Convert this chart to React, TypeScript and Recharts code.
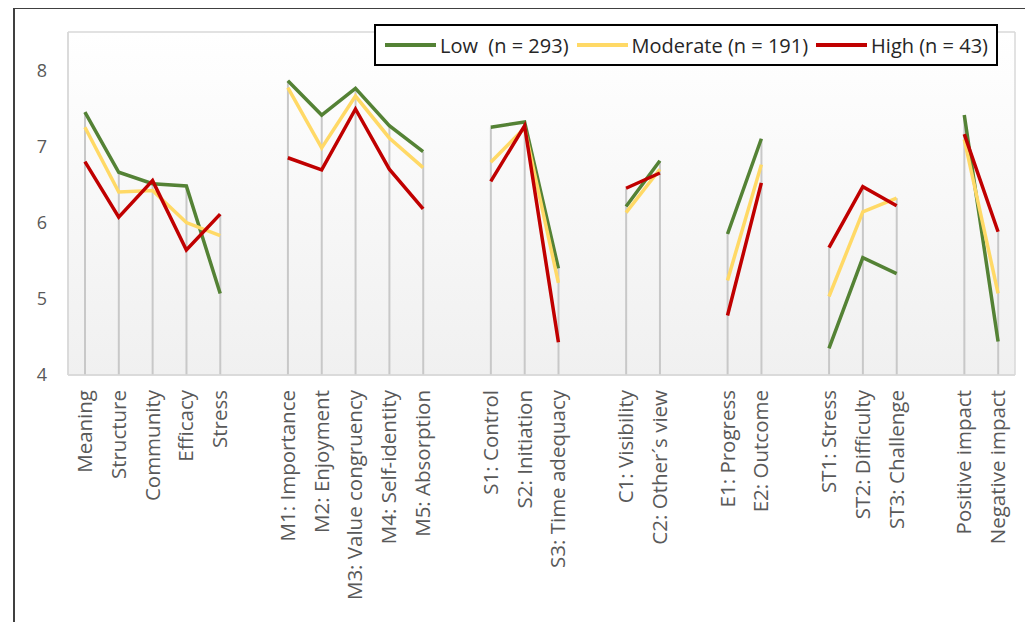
import { ComposedChart, Line, Bar, XAxis, YAxis, CartesianGrid } from 'recharts'

const categories = [
  'Meaning', 'Structure', 'Community', 'Efficacy', 'Stress', '',
  'M1: Importance', 'M2: Enjoyment', 'M3: Value congruency', 'M4: Self-identity', 'M5: Absorption', '',
  'S1: Control', 'S2: Initiation', 'S3: Time adequacy', '',
  'C1: Visibility', 'C2: Other´s view', '',
  'E1: Progress', 'E2: Outcome', '',
  'ST1: Stress', 'ST2: Difficulty', 'ST3: Challenge', '',
  'Positive impact', 'Negative impact',
]

const low = [7.45, 6.66, 6.51, 6.48, 5.07, null, 7.86, 7.41, 7.76, 7.27, 6.93, null, 7.25, 7.32, 5.4, null, 6.21, 6.81, null, 5.85, 7.1, null, 4.35, 5.54, 5.33, null, 7.41, 4.44]
const moderate = [7.25, 6.4, 6.42, 6.0, 5.83, null, 7.77, 6.98, 7.66, 7.11, 6.72, null, 6.79, 7.24, 5.21, null, 6.13, 6.7, null, 5.24, 6.76, null, 5.03, 6.14, 6.32, null, 7.09, 5.07]
const high = [6.8, 6.07, 6.55, 5.64, 6.11, null, 6.85, 6.69, 7.49, 6.7, 6.18, null, 6.54, 7.27, 4.43, null, 6.45, 6.65, null, 4.78, 6.52, null, 5.67, 6.47, 6.22, null, 7.16, 5.88]

const yTicks = [4, 5, 6, 7, 8]

const series = [
  { key: 'low', label: 'Low  (n = 293)', color: '#548235' },
  { key: 'moderate', label: 'Moderate (n = 191)', color: '#FFD966' },
  { key: 'high', label: 'High (n = 43)', color: '#C00000' },
]

const data = categories.map((name, i) => {
  const vals = [low[i], moderate[i], high[i]].filter((v) => v != null) as number[]
  return {
    name,
    low: low[i],
    moderate: moderate[i],
    high: high[i],
    top: vals.length ? Math.max(...vals) : null,
  }
})

const FONT = '"Open Sans", sans-serif'
const BORDER = '#d9d9d9'

// plot-area frame: lines at the edges of the plot area
const frameX = ({ offset }: any) => [offset.left, offset.left + offset.width]
const frameY = ({ offset }: any) => [offset.top, offset.top + offset.height]

const CategoryTick = (props: any) => {
  const { x, y, payload } = props
  return (
    <g transform={`translate(${x},${y})`}>
      <text
        transform="rotate(-90)"
        x={-7}
        y={7}
        textAnchor="end"
        fill="#595959"
        fontSize={20.5}
        fontFamily={FONT}
      >
        {payload.value}
      </text>
    </g>
  )
}

const LegendBox = () => (
  <div
    style={{
      position: 'absolute',
      left: 366,
      top: 16,
      width: 620,
      height: 38,
      border: '2px solid #000',
      background: '#fff',
      display: 'flex',
      alignItems: 'center',
      fontFamily: FONT,
      fontSize: 20,
      color: '#262626',
      whiteSpace: 'pre',
      boxSizing: 'content-box',
    }}
  >
    {series.map((s, i) => (
      <div key={s.key} style={{ display: 'flex', alignItems: 'center', marginLeft: i === 0 ? 9 : 8 }}>
        <div style={{ width: 51, height: 4, background: s.color, marginRight: 4 }} />
        <span>{s.label}</span>
      </div>
    ))}
  </div>
)

export default function App() {
  return (
    <div style={{ position: 'relative', width: 1025, height: 614, overflow: 'hidden' }}>
      <ComposedChart
        width={1025}
        height={614}
        data={data}
        margin={{ top: 24, right: 18, bottom: 7, left: 0 }}
      >
        <defs>
          <linearGradient id="plotBg" x1="0" y1="0" x2="0" y2="1">
            <stop offset="0%" stopColor="#ffffff" />
            <stop offset="100%" stopColor="#f0f0f0" />
          </linearGradient>
        </defs>
        <CartesianGrid
          fill="url(#plotBg)"
          fillOpacity={1}
          stroke={BORDER}
          strokeWidth={1.5}
          verticalCoordinatesGenerator={frameX}
          horizontalCoordinatesGenerator={frameY}
        />
        <XAxis
          dataKey="name"
          interval={0}
          height={240}
          axisLine={{ stroke: BORDER, strokeWidth: 1.5 }}
          tickLine={false}
          tick={<CategoryTick />}
        />
        <YAxis
          domain={[4, 8.5]}
          ticks={yTicks}
          width={60}
          axisLine={{ stroke: BORDER, strokeWidth: 1.5 }}
          tickLine={false}
          tickSize={0}
          tickMargin={21}
          tick={{ fill: '#595959', fontSize: 18, fontFamily: FONT }}
        />
        <Bar dataKey="top" barSize={2} fill="#c8c8c8" isAnimationActive={false} />
        {series.map((s) => (
          <Line
            key={s.key}
            type="linear"
            dataKey={s.key}
            stroke={s.color}
            strokeWidth={3.5}
            dot={false}
            activeDot={false}
            connectNulls={false}
            isAnimationActive={false}
          />
        ))}
      </ComposedChart>
      <LegendBox />
      <div
        style={{
          position: 'absolute',
          left: 5,
          top: -1,
          width: 1013,
          height: 700,
          border: '2px solid #404040',
          pointerEvents: 'none',
        }}
      />
    </div>
  )
}
